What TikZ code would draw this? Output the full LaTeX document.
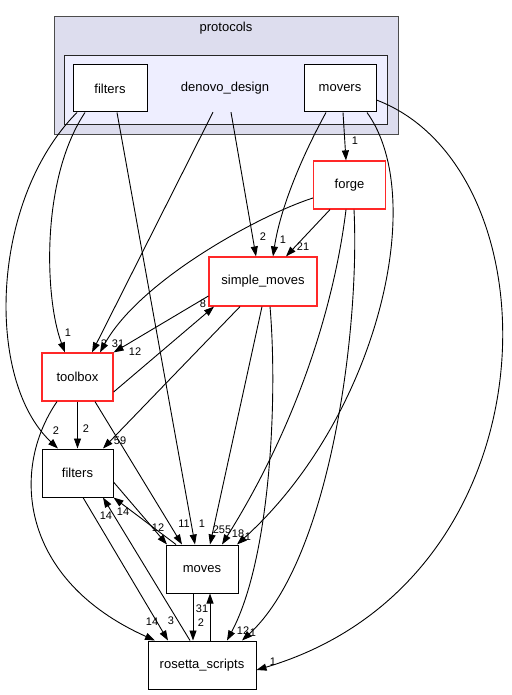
\documentclass[tikz,border=0pt]{standalone}
\usepackage{fontspec}
\setmainfont{Liberation Sans}
\usepackage{tikz}
\usetikzlibrary{arrows.meta}

\definecolor{outerfill}{RGB}{221,221,238}
\definecolor{innerfill}{RGB}{238,238,255}
\definecolor{dirred}{RGB}{255,40,40}

\begin{document}
\begin{tikzpicture}[x=1pt, y=-1pt,
        dir/.style={rectangle, draw=black, fill=white, line width=1pt, inner sep=0pt, minimum width=72pt, minimum height=48pt, font=\fontsize{13}{15}\selectfont},
        reddir/.style={dir, draw=dirred, line width=1.2pt},
        wide/.style={minimum width=108pt},
        title/.style={inner sep=0pt, font=\fontsize{13}{15}\selectfont},
        dep/.style={-{Triangle[length=10pt, width=7pt]}, line width=0.9pt},
        num/.style={inner sep=0pt, font=\fontsize{11}{12}\selectfont}
    ]
    \useasboundingbox (0,0) rectangle (511,695);

    % Clusters
    \draw[fill=outerfill, draw=black!70, line width=0.9pt] (54,16) rectangle (398,134);
    \node[title] (protocols) at (226,28) {protocols};
    \draw[fill=innerfill, draw=black!85, line width=0.9pt] (64,55) rectangle (387,124);
    \node[title, minimum height=47pt] (denovo) at (225,88.5) {denovo\_design};
    \node[dir, minimum width=74pt, minimum height=47pt] (dfilters) at (110,88.5) {filters};
    \node[dir, minimum height=47pt] (dmovers) at (340,88.5) {movers};

    % Directories
    \node[reddir] (forge) at (349.5,185) {forge};
    \node[reddir, wide, minimum height=49pt] (simplemoves) at (263,281.5) {simple\_moves};
    \node[reddir, minimum width=71pt] (toolbox) at (77.5,377) {toolbox};
    \node[dir, minimum width=71pt] (filters) at (77.5,473) {filters};
    \node[dir] (moves) at (202,569) {moves};
    \node[dir, wide] (rosetta) at (202,665) {rosetta\_scripts};

    % From denovo_design
    \draw[dep] ([xshift=-33pt]dfilters.south) .. controls (-10,200) and (-15,380) .. ([xshift=-19.5pt]filters.north) node[num] at (56,431) {2};
    \draw[dep] ([xshift=-25pt]dfilters.south) .. controls (40,180) and (45,300) .. ([xshift=-12.5pt]toolbox.north) node[num] at (68,333) {1};
    \draw[dep] ([xshift=7pt]dfilters.south) -- ([xshift=-7pt]moves.north) node[num] at (202,524) {1};
    \draw[dep] ([xshift=-12pt]denovo.south) -- ([xshift=14.5pt]toolbox.north) node[num] at (104,344) {2};
    \draw[dep] ([xshift=6pt]denovo.south) -- ([xshift=-7pt]simplemoves.north) node[num] at (263,237) {2};
    \draw[dep] ([xshift=-14pt]dmovers.south) .. controls (300,160) and (280,210) .. ([xshift=10pt]simplemoves.north) node[num] at (283,240) {1};
    \draw[dep] ([xshift=3pt]dmovers.south) -- ([xshift=-3.5pt]forge.north) node[num] at (355,141) {1};
    \draw[dep] ([xshift=27pt]dmovers.south) .. controls (430,200) and (375,420) .. ([xshift=35pt]moves.north) node[num] at (248,537) {1};
    \draw[dep] ([yshift=-11.5pt]dmovers.east) .. controls (560,170) and (560,580) .. ([yshift=-5pt]rosetta.east) node[num] at (273,662) {1};

    % From forge
    \draw[dep] ([yshift=-13pt]forge.west) .. controls (260,215) and (140,280) .. ([xshift=22.5pt]toolbox.north) node[num] at (118,344) {31};
    \draw[dep] ([xshift=-19.5pt]forge.south) -- ([xshift=23pt]simplemoves.north) node[num] at (303,247) {21};
    \draw[dep] ([xshift=-3.5pt]forge.south) .. controls (335,300) and (300,420) .. ([xshift=20pt]moves.north) node[num] at (238,534) {18};
    \draw[dep] ([xshift=4.5pt]forge.south) .. controls (360,330) and (330,560) .. ([xshift=40pt]rosetta.north) node[num] at (253,633) {1};

    % From simple_moves
    \draw[dep] ([yshift=-14.5pt]simplemoves.west) -- (toolbox.north east) node[num] at (135,352) {12};
    \draw[dep] ([yshift=-15pt]toolbox.east) -- ([xshift=-49pt]simplemoves.south) node[num] at (203,304) {8};
    \draw[dep] ([xshift=-23pt]simplemoves.south) -- ([xshift=25.5pt]filters.north) node[num] at (120,441) {59};
    \draw[dep] ([xshift=-1pt]simplemoves.south) -- ([xshift=8pt]moves.north) node[num] at (222,530) {255};
    \draw[dep] ([xshift=7pt]simplemoves.south) .. controls (278,400) and (270,560) .. ([xshift=25pt]rosetta.north) node[num] at (243,631) {12};

    % From toolbox
    \draw[dep] (toolbox.south) -- (filters.north) node[num] at (86,429) {2};
    \draw[dep] ([xshift=17.5pt]toolbox.south) -- ([xshift=-20pt]moves.north) node[num] at (184,524) {11};
    \draw[dep] ([xshift=-20.5pt]toolbox.south) .. controls (10,470) and (20,580) .. ([xshift=-47pt]rosetta.north) node[num] at (152,622) {14};

    % Between filters, moves and rosetta_scripts
    \draw[dep] ([yshift=-9pt]filters.east) -- ([xshift=-35pt]moves.north) node[num] at (158,528) {12};
    \draw[dep] ([xshift=-26pt]moves.north) -- (filters.south east) node[num] at (123,512) {14};
    \draw[dep] ([xshift=-12pt]rosetta.north) -- ([xshift=25.5pt]filters.south) node[num] at (106,516) {14};
    \draw[dep] ([xshift=5.5pt]filters.south) -- ([xshift=-34pt]rosetta.north) node[num] at (171,621) {3};
    \draw[dep] ([xshift=-9pt]moves.south) -- ([xshift=-9pt]rosetta.north) node[num] at (201,623) {2};
    \draw[dep] ([xshift=8pt]rosetta.north) -- ([xshift=8pt]moves.south) node[num] at (202,609) {31};
\end{tikzpicture}
\end{document}
